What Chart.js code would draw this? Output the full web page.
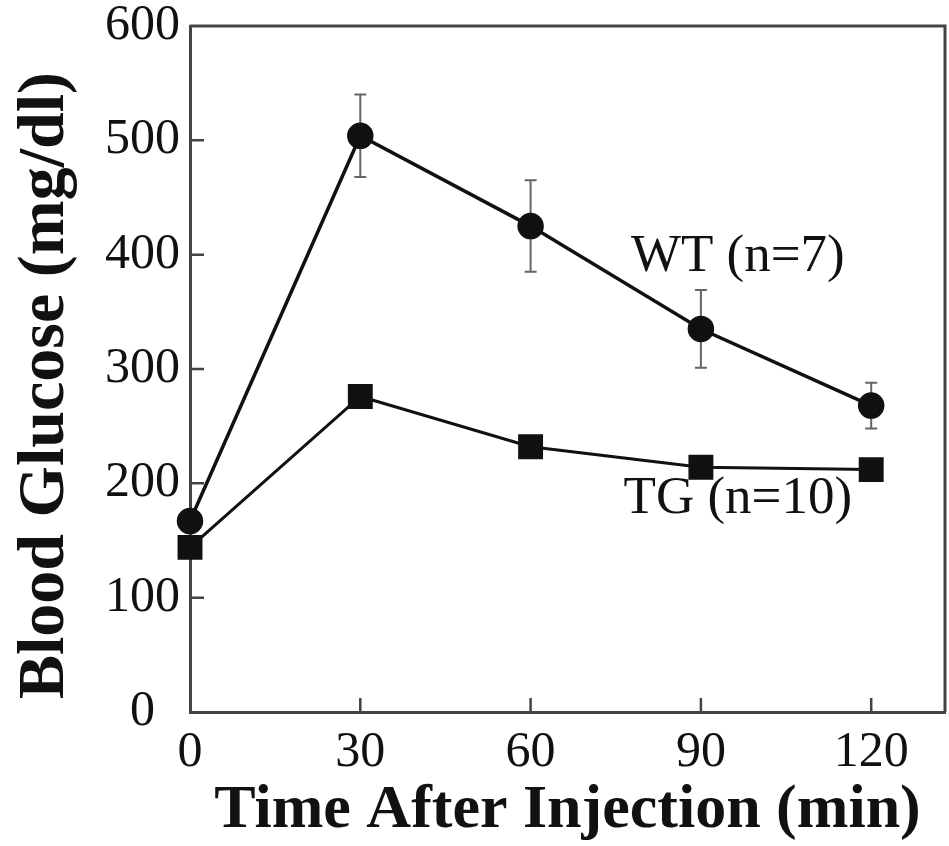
<!DOCTYPE html>
<html>
<head>
<meta charset="utf-8">
<script src="https://cdn.jsdelivr.net/npm/chart.js@4"></script>
<style>
  body { margin: 0; background: #fff; }
  canvas { display: block; }
</style>
</head>
<body>
<canvas id="glucoseChart" width="949" height="846"></canvas>
<script>
// values
const times = [0, 30, 60, 90, 120];
const wtMean = [167, 504, 425, 335, 268];
const wtErr = [0, 36, 40, 34, 20];
const tgMean = [144, 276, 232, 214, 212];
const xTicks = [0, 30, 60, 90, 120];
const yTicks = [0, 100, 200, 300, 400, 500, 600];
const wtLabel = "WT (n=7)";
const tgLabel = "TG (n=10)";

const serif = "'Liberation Serif', 'Times New Roman', serif";
const frameColor = "#444";

// error bars, drawn under the markers
const errorBars = {
  id: "errorBars",
  beforeDatasetsDraw(chart) {
    const { ctx, scales: { x, y } } = chart;
    ctx.save();
    ctx.strokeStyle = "#666";
    ctx.lineWidth = 2;
    times.forEach((t, i) => {
      if (!wtErr[i]) return;
      const px = x.getPixelForValue(t);
      const top = y.getPixelForValue(wtMean[i] + wtErr[i]);
      const bot = y.getPixelForValue(wtMean[i] - wtErr[i]);
      ctx.beginPath();
      ctx.moveTo(px, top); ctx.lineTo(px, bot);
      ctx.moveTo(px - 6, top); ctx.lineTo(px + 6, top);
      ctx.moveTo(px - 6, bot); ctx.lineTo(px + 6, bot);
      ctx.stroke();
    });
    ctx.restore();
  }
};

// box frame, inward ticks and series labels
const frame = {
  id: "frame",
  afterDatasetsDraw(chart) {
    const { ctx, chartArea: a, scales: { x, y } } = chart;
    ctx.save();
    ctx.strokeStyle = frameColor;
    ctx.lineWidth = 3;
    ctx.beginPath();
    ctx.moveTo(a.left, a.top); ctx.lineTo(a.right, a.top); ctx.lineTo(a.right, a.bottom);
    ctx.stroke();
    ctx.lineWidth = 2.5;
    ctx.beginPath();
    yTicks.forEach(v => {
      if (v === 0 || v === 600) return;
      const py = y.getPixelForValue(v);
      ctx.moveTo(a.left, py); ctx.lineTo(a.left + 14, py);
    });
    xTicks.forEach(v => {
      if (v === 0) return;
      const px = x.getPixelForValue(v);
      ctx.moveTo(px, a.bottom); ctx.lineTo(px, a.bottom - 14);
    });
    ctx.stroke();

    ctx.fillStyle = "#111";
    ctx.font = "53px " + serif;
    ctx.textAlign = "center";
    ctx.textBaseline = "middle";
    ctx.fillText(wtLabel, x.getPixelForValue(96.5), y.getPixelForValue(398));
    ctx.fillText(tgLabel, x.getPixelForValue(96.5), y.getPixelForValue(186));
    ctx.restore();
  }
};

new Chart("glucoseChart", {
  type: "line",
  data: {
    datasets: [
      {
        label: "WT",
        data: times.map((t, i) => ({ x: t, y: wtMean[i] })),
        borderColor: "#111",
        backgroundColor: "#111",
        borderWidth: 3.5,
        pointStyle: "circle",
        pointRadius: 11.5,
        pointHoverRadius: 11.5,
        clip: false,
      },
      {
        label: "TG",
        data: times.map((t, i) => ({ x: t, y: tgMean[i] })),
        borderColor: "#111",
        backgroundColor: "#111",
        borderWidth: 3,
        pointStyle: "rect",
        pointRadius: 15.5,
        pointHoverRadius: 15.5,
        clip: false,
      },
    ],
  },
  options: {
    responsive: false,
    animation: false,
    layout: { autoPadding: false, padding: { top: 26, right: 4, left: 0, bottom: 0 } },
    plugins: {
      legend: { display: false },
      tooltip: { enabled: false },
    },
    scales: {
      x: {
        type: "linear",
        min: 0,
        max: 133,
        afterBuildTicks: s => { s.ticks = xTicks.map(v => ({ value: v })); },
        afterFit: s => {
          s.height = 134;
          s.paddingLeft = 0;
          s.paddingRight = 0;
        },
        grid: { display: false, drawTicks: false },
        border: { color: frameColor, width: 3 },
        ticks: { color: "#111", padding: 11, font: { family: serif, size: 50 } },
        title: {
          display: true,
          text: "Time After Injection (min)",
          color: "#111",
          padding: { top: 0, bottom: -2 },
          font: { family: serif, size: 62, weight: "bold" },
        },
      },
      y: {
        min: 0,
        max: 600,
        afterBuildTicks: s => { s.ticks = yTicks.map(v => ({ value: v })); },
        afterFit: s => {
          s.width = 190;
          s.paddingTop = 0;
          s.paddingBottom = 0;
        },
        grid: { display: false, drawTicks: false },
        border: { color: frameColor, width: 3 },
        ticks: {
          color: "#111",
          padding: 10,
          font: { family: serif, size: 50 },
          callback: v => (v === 0 ? "0\u2002" : String(v)),
        },
        title: {
          display: true,
          text: "Blood Glucose (mg/dl)\u2002",
          color: "#111",
          padding: { top: 6, bottom: 0 },
          font: { family: serif, size: 66, weight: "bold" },
        },
      },
    },
  },
  plugins: [errorBars, frame],
});
</script>
</body>
</html>
